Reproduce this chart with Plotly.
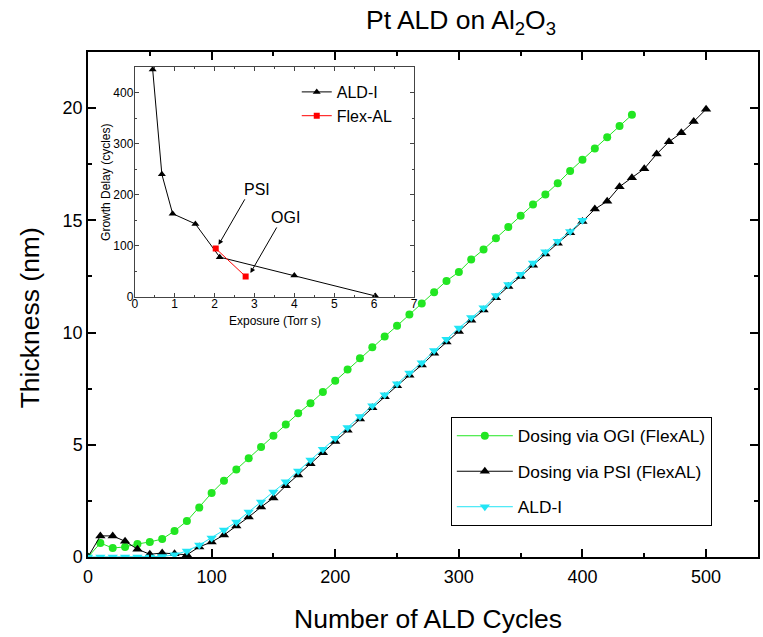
import plotly.graph_objects as go

# Main chart data
cycles_ogi = list(range(0, 450, 10))
thick_ogi = [0.0, 0.62, 0.40, 0.45, 0.58, 0.67, 0.80, 1.16, 1.60, 2.20, 2.85, 3.40,
             3.90, 4.40, 4.90, 5.40, 5.90, 6.40, 6.85, 7.35, 7.85, 8.35, 8.85, 9.35,
             9.82, 10.30, 10.80, 11.30, 11.80, 12.30, 12.70, 13.25, 13.70, 14.20,
             14.70, 15.20, 15.70, 16.15, 16.65, 17.20, 17.70, 18.20, 18.70, 19.20, 19.70]

cycles_psi = list(range(0, 510, 10))
thick_psi = [0.0, 0.94, 0.94, 0.70, 0.35, 0.12, 0.18, 0.15, 0.10, 0.45, 0.67, 0.98,
             1.38, 1.78, 2.23, 2.63, 3.17, 3.65, 4.15, 4.65, 5.15, 5.65, 6.15, 6.65,
             7.14, 7.63, 8.10, 8.55, 9.08, 9.58, 10.05, 10.55, 11.00, 11.55, 12.05,
             12.50, 13.00, 13.50, 13.98, 14.45, 14.95, 15.50, 15.85, 16.50, 16.90,
             17.30, 17.95, 18.50, 18.90, 19.40, 19.95]

cycles_ald = list(range(0, 410, 10))
thick_ald = [0.0, 0.0, 0.0, 0.0, 0.0, 0.0, 0.02, 0.10, 0.27, 0.53, 0.85, 1.20,
             1.56, 2.00, 2.45, 2.90, 3.35, 3.83, 4.32, 4.80, 5.29, 5.77, 6.26, 6.74,
             7.23, 7.72, 8.20, 8.66, 9.20, 9.70, 10.20, 10.67, 11.10, 11.65, 12.14,
             12.60, 13.10, 13.60, 14.07, 14.50, 15.00]

# Inset data
exp_ald = [0.45, 0.68, 0.95, 1.52, 2.13, 4.0, 6.03]
delay_ald = [445, 240, 163, 143, 78, 42, 2]
exp_flex = [2.03, 2.78]
delay_flex = [95, 40]

FONT = "Liberation Sans, Arial, sans-serif"

fig = go.Figure()

fig.add_trace(go.Scatter(x=cycles_ogi, y=thick_ogi, mode="lines+markers",
                         name="Dosing via OGI (FlexAL)", legendgroup="a",
                         line=dict(color="#22e622", width=1),
                         marker=dict(symbol="circle", size=8, color="#22e622")))
fig.add_trace(go.Scatter(x=cycles_psi, y=thick_psi, mode="lines+markers",
                         name="Dosing via PSI (FlexAL)", legendgroup="b",
                         line=dict(color="black", width=1),
                         marker=dict(symbol="triangle-up", size=9, color="black")))
fig.add_trace(go.Scatter(x=cycles_ald, y=thick_ald, mode="lines+markers",
                         name="ALD-I", legendgroup="c",
                         line=dict(color="#22e5f5", width=1),
                         marker=dict(symbol="triangle-down", size=9, color="#22e5f5")))

fig.add_trace(go.Scatter(x=exp_ald, y=delay_ald, mode="lines+markers", name="ALD-I",
                         xaxis="x2", yaxis="y2", legend="legend2",
                         line=dict(color="black", width=1),
                         marker=dict(symbol="triangle-up", size=7, color="black")))
fig.add_trace(go.Scatter(x=exp_flex, y=delay_flex, mode="lines+markers", name="Flex-AL",
                         xaxis="x2", yaxis="y2", legend="legend2",
                         line=dict(color="red", width=1),
                         marker=dict(symbol="square", size=6, color="red")))

x2d = [(135 - 88) / 674, (416 - 88) / 674]
y2d = [(557 - 297) / 505, (557 - 67) / 505]

fig.update_layout(
    width=763, height=637,
    margin=dict(l=88, r=1, t=52, b=80),
    plot_bgcolor="white", paper_bgcolor="white",
    font=dict(family=FONT, color="black"),
    showlegend=True,
    xaxis=dict(range=[0, 542], dtick=100, tick0=0, ticks="inside", ticklen=8,
               tickwidth=1.5, tickcolor="black", ticklabelstandoff=3,
               minor=dict(dtick=50, ticks="inside", ticklen=4, tickcolor="black"),
               showline=True, linecolor="black", linewidth=1.5, mirror="ticks",
               showgrid=False, zeroline=False, tickfont=dict(size=18)),
    yaxis=dict(range=[0, 22.5], dtick=5, tick0=0, ticks="inside", ticklen=8,
               tickwidth=1.5, tickcolor="black",
               minor=dict(dtick=2.5, ticks="inside", ticklen=4, tickcolor="black"),
               showline=True, linecolor="black", linewidth=1.5, mirror="ticks",
               showgrid=False, zeroline=False, tickfont=dict(size=18)),
    xaxis2=dict(domain=x2d, anchor="y2", range=[0, 7], dtick=1, ticks="inside",
                ticklen=4, tickcolor="#444", ticklabelstandoff=-4,
                minor=dict(dtick=0.5, ticks="inside", ticklen=2, tickcolor="#444"),
                showline=True, linecolor="#444", linewidth=1, mirror="ticks",
                showgrid=False, zeroline=False, tickfont=dict(size=12)),
    yaxis2=dict(domain=y2d, anchor="x2", range=[0, 450], dtick=100, ticks="inside",
                ticklen=4, tickcolor="#444", ticklabelstandoff=-2,
                minor=dict(dtick=50, ticks="inside", ticklen=2, tickcolor="#444"),
                showline=True, linecolor="#444", linewidth=1, mirror="ticks",
                showgrid=False, zeroline=False, tickfont=dict(size=12)),
    legend=dict(x=(453 - 88) / 674, y=(557 - 417) / 505, xanchor="left", yanchor="top",
                bgcolor="white", bordercolor="black", borderwidth=1,
                itemwidth=56,
                font=dict(size=17.3), tracegroupgap=10),
    legend2=dict(x=(298 - 88) / 674, y=(557 - 75) / 505, xanchor="left", yanchor="top",
                 bgcolor="rgba(0,0,0,0)", borderwidth=0, font=dict(size=16),
                 tracegroupgap=0),
)

fig.add_shape(type="rect", xref="paper", yref="paper", x0=x2d[0], x1=x2d[1],
              y0=y2d[0], y1=y2d[1], fillcolor="white", line=dict(width=0), layer="below")

anns = [
    dict(text="Pt ALD on Al<sub>2</sub>O<sub>3</sub>", xref="paper", yref="paper",
         x=(463 - 88) / 674, y=(557 - 22) / 505, showarrow=False, font=dict(size=26.5),
         xanchor="center", yanchor="middle"),
    dict(text="Number of ALD Cycles", xref="paper", yref="paper",
         x=(430 - 88) / 674, y=(557 - 619) / 505, showarrow=False, font=dict(size=26.5),
         xanchor="center", yanchor="middle"),
    dict(text="Thickness (nm)", xref="paper", yref="paper", textangle=-90,
         x=(30 - 88) / 674, y=(557 - 318) / 505, showarrow=False, font=dict(size=26.5),
         xanchor="center", yanchor="middle"),
    dict(text="Exposure (Torr s)", xref="paper", yref="paper",
         x=(276 - 88) / 674, y=(557 - 321) / 505, showarrow=False, font=dict(size=12),
         xanchor="center", yanchor="middle"),
    dict(text="Growth Delay (cycles)", xref="paper", yref="paper", textangle=-90,
         x=(106 - 88) / 674, y=(557 - 182) / 505, showarrow=False, font=dict(size=12),
         xanchor="center", yanchor="middle"),
    dict(text="PSI", xref="x2", yref="y2", x=3.07, y=211, showarrow=False,
         font=dict(size=16)),
    dict(text="OGI", xref="x2", yref="y2", x=3.77, y=156, showarrow=False,
         font=dict(size=16)),
    dict(text="", xref="x2", yref="y2", axref="x2", ayref="y2", x=2.1, y=102,
         ax=2.78, ay=194, showarrow=True, arrowhead=2, arrowsize=1, arrowwidth=1,
         arrowcolor="black"),
    dict(text="", xref="x2", yref="y2", axref="x2", ayref="y2", x=2.9, y=47,
         ax=3.58, ay=139, showarrow=True, arrowhead=2, arrowsize=1, arrowwidth=1,
         arrowcolor="black"),
]
fig.update_layout(annotations=anns)

fig.write_html("out.html")
